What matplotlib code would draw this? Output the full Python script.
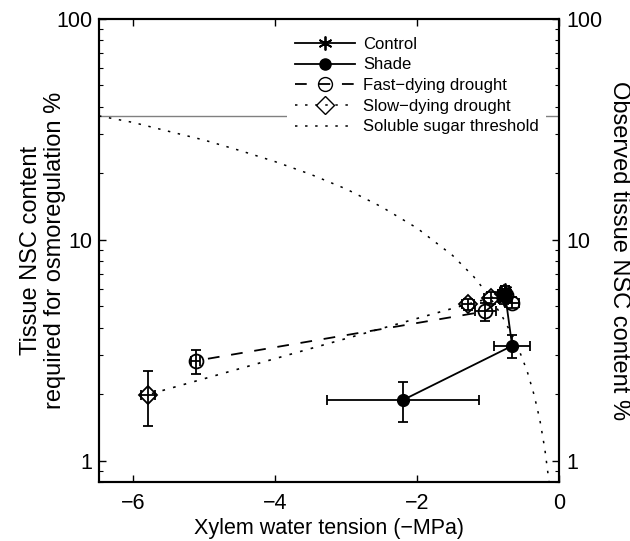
import matplotlib
matplotlib.use("Agg")
import matplotlib.pyplot as plt
from matplotlib.lines import Line2D

plt.rcParams['font.family'] = ['Liberation Sans', 'DejaVu Sans']

# ---- data ----
control_x = [-0.80, -0.76, -0.78]
control_y = [5.6, 5.9, 5.4]
control_xerr = [0.06, 0.06, 0.06]
control_yerr = [0.3, 0.3, 0.3]

shade_x = [-0.76, -0.66, -2.20]
shade_y = [5.7, 3.31, 1.88]
shade_xerr = [0.08, 0.25, 1.07]
shade_yerr = [0.3, 0.38, 0.38]

fast_x = [-0.66, -0.75, -1.04, -5.12]
fast_y = [5.2, 5.6, 4.74, 2.83]
fast_xerr = [0.1, 0.08, 0.15, 0.06]
fast_yerr = [0.3, 0.3, 0.45, 0.35]

slow_x = [-0.78, -0.96, -1.28, -5.79]
slow_y = [5.7, 5.45, 5.12, 1.99]
slow_xerr = [0.08, 0.1, 0.08, 0.1]
slow_yerr = [0.3, 0.35, 0.3, 0.55]

thr_x = [-6.48, -6.0, -5.5, -5.0, -4.5, -4.0, -3.5, -3.0, -2.5, -2.0, -1.5,
         -1.2, -1.0, -0.8, -0.6, -0.45, -0.35, -0.27, -0.2, -0.14]
thr_y = [36.4, 34, 31, 28.3, 25.4, 22.6, 19.8, 17, 14.1, 11.3, 8.5,
         6.8, 5.65, 4.5, 3.4, 2.55, 1.98, 1.53, 1.13, 0.8]
max_threshold = 36.4

xticks = [-6, -4, -2, 0]
yticks = [1, 10, 100]
yticklabels = ['1', '10', '100']

# ---- figure ----
fig = plt.figure(figsize=(6.3, 5.41), dpi=100)
ax = fig.add_axes([99/630, 59/541, 460/630, 463/541])
ax.set_yscale('log')
ax.set_xlim(-6.48, 0)
ax.set_ylim(0.8, 100)

lw = 1.3
dot_style = (0, (1.6, 5.0))
dash_style = (0, (6.5, 6.5))

ax.axhline(max_threshold, color='0.5', lw=1.0, zorder=1)
ax.plot(thr_x, thr_y, color='k', lw=1.1, linestyle=dot_style, zorder=2)

ekw = dict(ecolor='k', elinewidth=lw, capsize=3.5, capthick=lw, zorder=3)

ax.errorbar(slow_x, slow_y, xerr=slow_xerr, yerr=slow_yerr, color='k', lw=1.2,
            linestyle=dot_style, marker='D', ms=9.5, mfc='none', mec='k', mew=lw, **ekw)
ax.errorbar(fast_x, fast_y, xerr=fast_xerr, yerr=fast_yerr, color='k', lw=lw,
            linestyle=dash_style, marker='o', ms=10, mfc='none', mec='k', mew=lw, **ekw)
ax.errorbar(shade_x, shade_y, xerr=shade_xerr, yerr=shade_yerr, color='k', lw=lw,
            linestyle='-', marker='o', ms=8.5, mfc='k', mec='k', **ekw)
ax.errorbar(control_x, control_y, xerr=control_xerr, yerr=control_yerr, color='k', lw=lw,
            linestyle='-', marker=(6, 2, 0), ms=10, mec='k', mew=lw, **ekw)

ax.set_xticks(xticks)
ax.set_yticks(yticks)
ax.set_yticklabels(yticklabels)
ax.tick_params(axis='both', which='both', direction='in', labelsize=15.5, top=True)
ax.tick_params(axis='x', pad=8)
ax.tick_params(axis='y', pad=5)
ax.tick_params(which='major', length=5, width=1.0)
ax.tick_params(which='minor', length=3, width=0.8)
ax.tick_params(axis='y', which='both', right=False)
for s in ax.spines.values():
    s.set_linewidth(1.5)

ax.set_xlabel('Xylem water tension (−MPa)', fontsize=15.5, labelpad=3)
ax.set_ylabel('Tissue NSC content\nrequired for osmoregulation %', fontsize=17,
              linespacing=1.1)
ax.yaxis.set_label_coords((66 - 99) / 460, 0.5)

ax2 = ax.twinx()
ax2.set_yscale('log')
ax2.set_ylim(0.8, 100)
ax2.set_yticks(yticks)
ax2.set_yticklabels(yticklabels)
ax2.tick_params(axis='y', which='both', direction='in', labelsize=15.5, pad=5)
ax2.tick_params(which='major', length=5, width=1.0)
ax2.tick_params(which='minor', length=3, width=0.8)
ax2.set_ylabel('Observed tissue NSC content %', fontsize=17, rotation=270, labelpad=20)
for s in ax2.spines.values():
    s.set_linewidth(1.5)

handles = [
    Line2D([], [], color='k', lw=lw, marker=(6, 2, 0), ms=10, mew=lw),
    Line2D([], [], color='k', lw=lw, marker='o', ms=8, mfc='k'),
    Line2D([], [], color='k', lw=lw, linestyle=dash_style, marker='o', ms=10, mfc='none', mew=1.0),
    Line2D([], [], color='k', lw=1.1, linestyle=dot_style, marker='D', ms=9, mfc='none', mew=1.0),
    Line2D([], [], color='k', lw=1.1, linestyle=dot_style),
]
labels = ['Control', 'Shade', 'Fast−dying drought', 'Slow−dying drought',
          'Soluble sugar threshold']
leg = ax2.legend(handles, labels, loc='upper left', bbox_to_anchor=((287 - 99) / 460, 0.978),
                 fontsize=12, handlelength=3.6, handletextpad=0.5, labelspacing=0.34,
                 borderpad=0.45, borderaxespad=0, frameon=True, fancybox=False,
                 edgecolor='none', facecolor='white', framealpha=1)

fig.savefig('out.png', dpi=100)
